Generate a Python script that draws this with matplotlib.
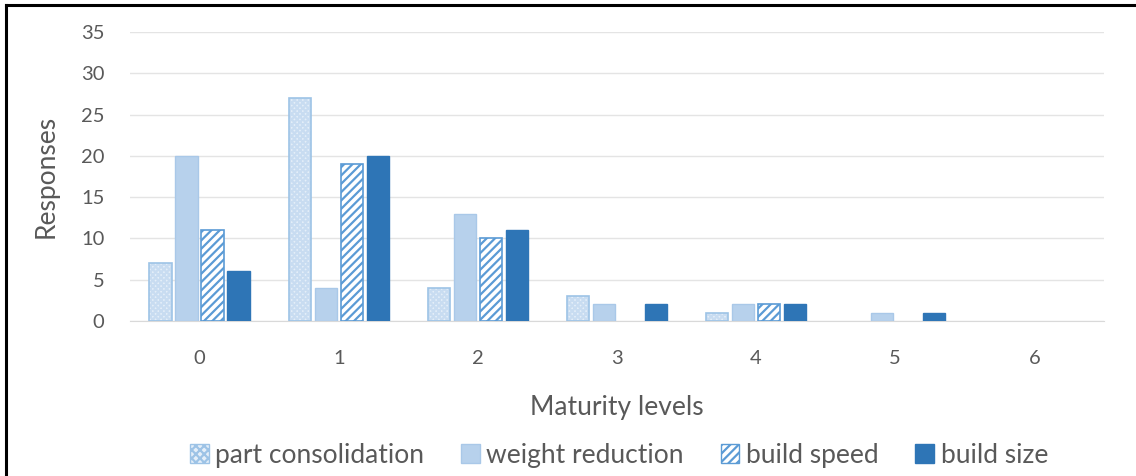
import matplotlib
matplotlib.use("Agg")
import matplotlib.pyplot as plt
from matplotlib.patches import Patch
from matplotlib.lines import Line2D

levels = [0, 1, 2, 3, 4, 5, 6]
part_consolidation = [7, 27, 4, 3, 1, 0, 0]
weight_reduction = [20, 4, 13, 2, 2, 1, 0]
build_speed = [11, 19, 10, 0, 2, 0, 0]
build_size = [6, 20, 11, 2, 2, 1, 0]

plt.rcParams['font.family'] = ['Lato', 'DejaVu Sans']
plt.rcParams['hatch.linewidth'] = 1.6

fig = plt.figure(figsize=(11.36, 4.76), dpi=100)
ax = fig.add_axes([0.1144, 0.3256, 0.8574, 0.6072])

w = 0.16
step = 0.187
xs = list(range(len(levels)))


def shifted(k):
    return [x + (k - 1.5) * step for x in xs]


def edge_widths(values, lw):
    # no outline on empty bars
    return [lw if v > 0 else 0 for v in values]


# part consolidation: fine dotted fill
ax.bar(shifted(0), part_consolidation, w, color='#E5EFF9', edgecolor='#C8DCF1',
       hatch='xxxxxx', linewidth=0, zorder=3)
ax.bar(shifted(0), part_consolidation, w, fill=False, edgecolor='#9DC3E6',
       linewidth=edge_widths(part_consolidation, 1.2), zorder=4)
# weight reduction: solid light blue
ax.bar(shifted(1), weight_reduction, w, color='#B7D1EC', edgecolor='#A9C8E8',
       linewidth=edge_widths(weight_reduction, 1), zorder=3)
# build speed: diagonal stripes
ax.bar(shifted(2), build_speed, w, color='white', edgecolor='#5B9BD5',
       hatch='////', linewidth=0, zorder=3)
ax.bar(shifted(2), build_speed, w, fill=False, edgecolor='#5B9BD5',
       linewidth=edge_widths(build_speed, 1.2), zorder=4)
# build size: solid dark blue
ax.bar(shifted(3), build_size, w, color='#2E75B6', edgecolor='#2E75B6',
       linewidth=edge_widths(build_size, 1), zorder=3)

ax.set_xlim(-0.5, len(levels) - 0.5)
ax.set_ylim(0, 35)
ax.set_yticks(range(0, 36, 5))
ax.set_xticks(xs)
ax.set_xticklabels([str(l) for l in levels])
ax.yaxis.grid(True, color='#E4E4E4', linewidth=1, zorder=0)
ax.set_axisbelow(True)
for s in ['top', 'right', 'left']:
    ax.spines[s].set_visible(False)
ax.spines['bottom'].set_color('#D9D9D9')
ax.tick_params(axis='both', length=0, colors='#595959', labelsize=14.5)
ax.tick_params(axis='x', pad=21)
ax.tick_params(axis='y', pad=18.5)

ax.set_xlabel('Maturity levels', fontsize=19, color='#595959', labelpad=20)
ax.set_ylabel('Responses', fontsize=19, color='#595959', labelpad=16)

handles = [
    Patch(facecolor='#E5EFF9', edgecolor='#9DC3E6', hatch='xxxx', linewidth=1),
    Patch(facecolor='#B7D1EC', edgecolor='#A9C8E8', linewidth=1),
    Patch(facecolor='white', edgecolor='#5B9BD5', hatch='////', linewidth=1),
    Patch(facecolor='#2E75B6', edgecolor='#2E75B6', linewidth=1),
]
labels = ['part consolidation', 'weight reduction', 'build speed', 'build size']
fig.legend(handles, labels, loc='center', bbox_to_anchor=(0.545, 0.044), ncol=4,
           frameon=False, fontsize=19, labelcolor='#595959',
           handlelength=0.7, handleheight=0.7, handletextpad=0.25,
           columnspacing=1.4, borderpad=0)

# outer frame
fig.add_artist(Line2D([6 / 1136, 1136 / 1136], [1 - 5 / 476, 1 - 5 / 476],
                      color='black', linewidth=2.2, transform=fig.transFigure))
fig.add_artist(Line2D([6 / 1136, 6 / 1136], [0, 1 - 5 / 476],
                      color='black', linewidth=2.2, transform=fig.transFigure))

fig.savefig('out.png', dpi=100)
